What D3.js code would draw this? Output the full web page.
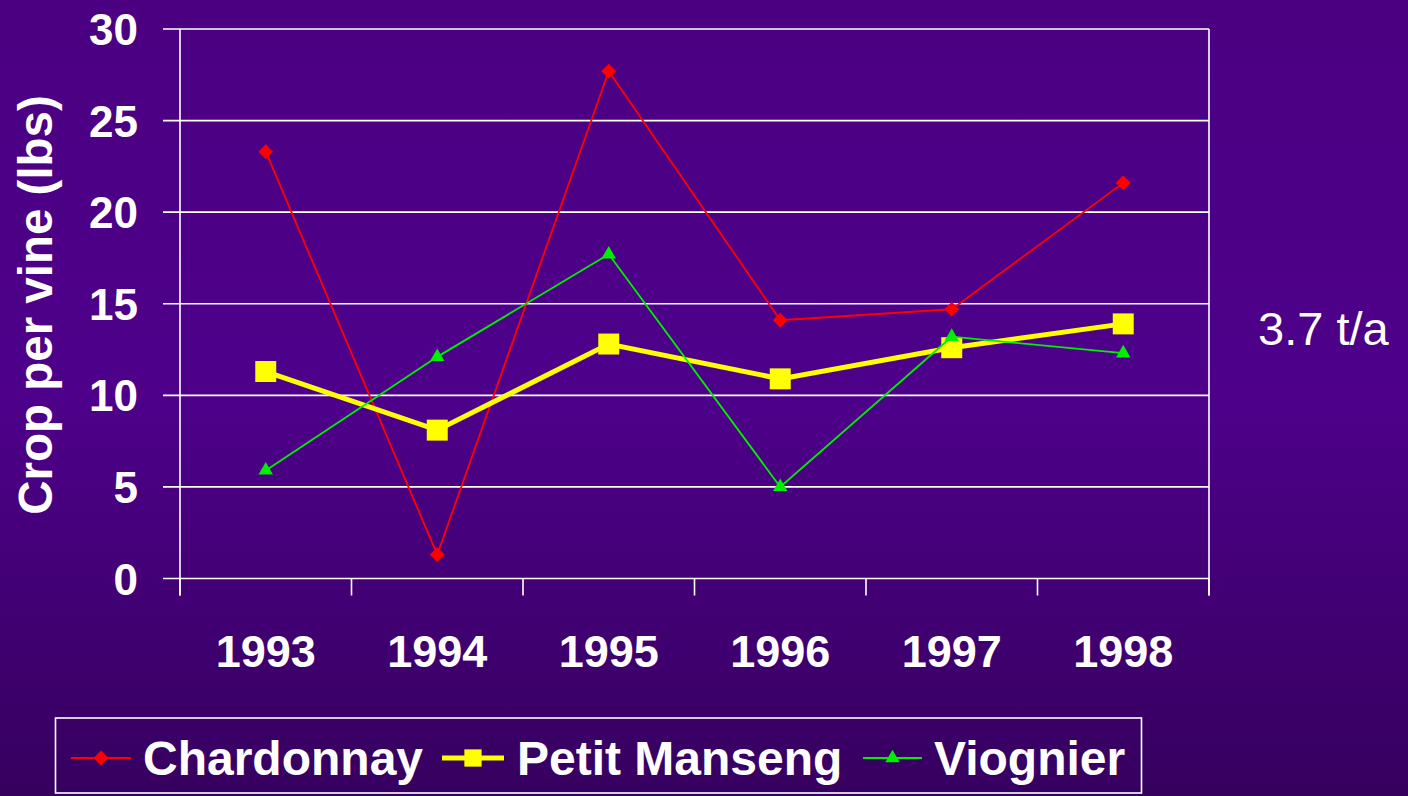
<!DOCTYPE html>
<html><head><meta charset="utf-8">
<script src="https://cdn.jsdelivr.net/npm/d3@7"></script>
<style>html,body{margin:0;padding:0;overflow:hidden;background:#47007c}</style>
</head><body>
<script>
const years = ["1993","1994","1995","1996","1997","1998"];
const chardonnay = [23.3, 1.3, 27.7, 14.1, 14.7, 21.6];
const petitManseng = [11.3, 8.1, 12.8, 10.9, 12.6, 13.9];
const viognier = [5.9, 12.1, 17.7, 5.0, 13.2, 12.3];
const yTicks = [0, 5, 10, 15, 20, 25, 30];
const seriesNames = ["Chardonnay", "Petit Manseng", "Viognier"];
const annotation = "3.7 t/a";
const yTitle = "Crop per vine (lbs)";

const W = 1408, H = 796;
const svg = d3.select("body").append("svg").attr("width", W).attr("height", H);
const defs = svg.append("defs");
const grad = defs.append("linearGradient").attr("id","bg").attr("x1",0).attr("y1",0).attr("x2",0).attr("y2",1);
grad.append("stop").attr("offset","0%").attr("stop-color","#4b0082");
grad.append("stop").attr("offset","50%").attr("stop-color","#4e008a");
grad.append("stop").attr("offset","100%").attr("stop-color","#36005f");
svg.append("rect").attr("width",W).attr("height",H).attr("fill","url(#bg)");

const pLeft = 180, pRight = 1209, pTop = 29, pBottom = 578.5;
const x = d3.scaleBand().domain(years).range([pLeft, pRight]);
const y = d3.scaleLinear().domain([0, 30]).range([pBottom, pTop]);
const font = "'Liberation Sans', Arial, sans-serif";

const g = svg.append("g");
g.selectAll("line.grid").data(yTicks).join("line")
  .attr("x1", pLeft - 17).attr("x2", pRight)
  .attr("y1", d => y(d)).attr("y2", d => y(d))
  .attr("stroke", "#fff").attr("stroke-width", 1.6);
g.append("line").attr("x1", pLeft).attr("x2", pLeft).attr("y1", pTop).attr("y2", pBottom + 17)
  .attr("stroke", "#fff").attr("stroke-width", 1.6);
g.append("line").attr("x1", pRight).attr("x2", pRight).attr("y1", pTop).attr("y2", pBottom + 17)
  .attr("stroke", "#fff").attr("stroke-width", 1.6);
const bounds = years.map(d => x(d)).concat([pRight]);
g.selectAll("line.xt").data(bounds).join("line")
  .attr("x1", d => d).attr("x2", d => d).attr("y1", pBottom).attr("y2", pBottom + 17)
  .attr("stroke", "#fff").attr("stroke-width", 1.6);

g.selectAll("text.yl").data(yTicks).join("text")
  .attr("x", 138).attr("y", d => y(d) + 16)
  .attr("text-anchor", "end")
  .attr("font-family", font).attr("font-weight", "bold").attr("font-size", 44)
  .attr("fill", "#fff").text(d => d);

g.selectAll("text.xl").data(years).join("text")
  .attr("x", d => x(d) + x.bandwidth() / 2).attr("y", 667)
  .attr("text-anchor", "middle")
  .attr("font-family", font).attr("font-weight", "bold").attr("font-size", 45)
  .attr("fill", "#fff").text(d => d);

svg.append("text")
  .attr("transform", "translate(52,305) rotate(-90)")
  .attr("text-anchor", "middle")
  .attr("font-family", font).attr("font-weight", "bold").attr("font-size", 47.5)
  .attr("fill", "#fff").text(yTitle);

svg.append("text").attr("x", 1258).attr("y", 345)
  .attr("font-family", font).attr("font-size", 47)
  .attr("fill", "#fff").text(annotation);

const cx = (d, i) => x(years[i]) + x.bandwidth() / 2;
const line = d3.line().x((d, i) => cx(d, i)).y(d => y(d));

const series = [
  {name: seriesNames[0], values: chardonnay, color: "#ff0000", width: 1.8, sym: d3.symbolDiamond2, size: 140},
  {name: seriesNames[1], values: petitManseng, color: "#ffff00", width: 5, sym: d3.symbolSquare2, size: 560},
  {name: seriesNames[2], values: viognier, color: "#00ee00", width: 1.8, sym: d3.symbolTriangle2, size: 150}
];
series.forEach(s => {
  svg.append("path").datum(s.values).attr("d", line)
    .attr("fill", "none").attr("stroke", s.color).attr("stroke-width", s.width)
    .attr("stroke-linejoin", "miter");
  svg.selectAll(null).data(s.values).join("path")
    .attr("transform", (d, i) => `translate(${cx(d, i)},${y(d)})`)
    .attr("d", d3.symbol().type(s.sym).size(s.size))
    .attr("fill", s.color);
});

const lg = svg.append("g");
lg.append("rect").attr("x", 55.5).attr("y", 718).attr("width", 1086).attr("height", 75)
  .attr("fill", "none").attr("stroke", "#fff").attr("stroke-width", 1.6);
const legendPos = [
  {lx1: 71, lx2: 131, tx: 143},
  {lx1: 442, lx2: 504, tx: 517},
  {lx1: 863, lx2: 922, tx: 934}
];
series.forEach((s, i) => {
  const p = legendPos[i];
  const ly = 758;
  lg.append("line").attr("x1", p.lx1).attr("x2", p.lx2).attr("y1", ly).attr("y2", ly)
    .attr("stroke", s.color).attr("stroke-width", s.width);
  lg.append("path").attr("transform", `translate(${(p.lx1 + p.lx2) / 2},${ly})`)
    .attr("d", d3.symbol().type(s.sym).size(i === 1 ? 380 : s.size)).attr("fill", s.color);
  lg.append("text").attr("x", p.tx).attr("y", 775)
    .attr("font-family", font).attr("font-weight", "bold").attr("font-size", 48)
    .attr("fill", "#fff").text(s.name);
});
</script>
</body></html>
